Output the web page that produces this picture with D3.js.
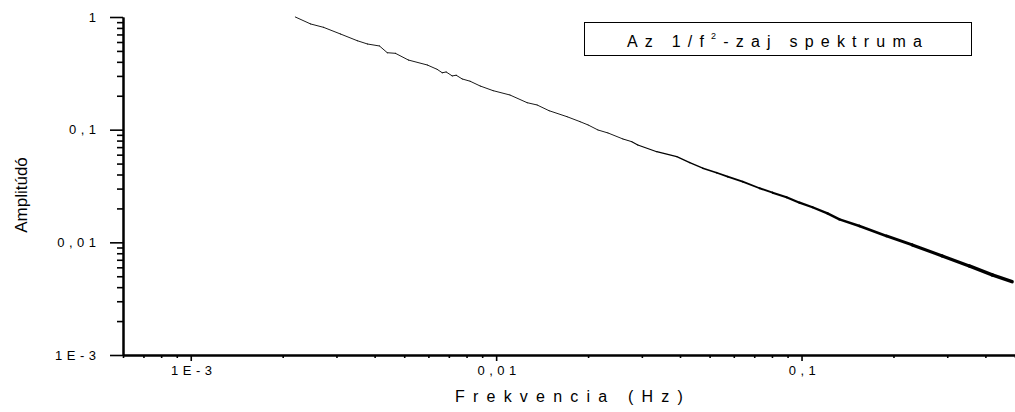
<!DOCTYPE html>
<html>
<head>
<meta charset="utf-8">
<script src="https://cdn.jsdelivr.net/npm/d3@7"></script>
<style>
  body { margin: 0; background: #fff; }
  text { font-family: "Liberation Sans", Arial, sans-serif; fill: #000; }
</style>
</head>
<body>
<svg id="chart" width="1015" height="412"></svg>
<script>
// values
const freq = [
    0.00220, 0.00247, 0.00272, 0.00309, 0.00351, 0.00379, 0.00415, 0.00440, 0.00468, 0.00516,
    0.00595, 0.00641, 0.00666, 0.00686, 0.00718, 0.00740, 0.00774, 0.00822, 0.00887, 0.00977,
    0.0111, 0.01263, 0.01362, 0.0149, 0.01706, 0.01882, 0.0200, 0.02154, 0.02323, 0.0260,
    0.02782, 0.0291, 0.03357, 0.03904, 0.04305, 0.04749, 0.05275, 0.0573, 0.06416, 0.0729,
    0.0804, 0.0893, 0.0985, 0.1086, 0.1216, 0.1331, 0.1547, 0.1896, 0.2305, 0.2889,
    0.354, 0.421, 0.489
];
const amp = [
    1.0, 0.867, 0.810, 0.707, 0.616, 0.576, 0.553, 0.482, 0.476, 0.415,
    0.375, 0.343, 0.320, 0.325, 0.300, 0.304, 0.282, 0.269, 0.244, 0.222,
    0.203, 0.1736, 0.1656, 0.1474, 0.1304, 0.1178, 0.1101, 0.0994, 0.0935, 0.0827,
    0.0782, 0.0731, 0.0638, 0.0576, 0.0510, 0.0455, 0.0415, 0.0383, 0.0346, 0.0302,
    0.0276, 0.0251, 0.0225, 0.0205, 0.0181, 0.0160, 0.01398, 0.0114, 0.00948, 0.00757,
    0.00617, 0.00514, 0.00448
];
const xTicks = [1e-3, 1e-2, 1e-1];
const xTickLabels = ['1E-3', '0,01', '0,1'];
const yTicks = [1e-3, 1e-2, 1e-1, 1];
const yTickLabels = ['1E-3', '0,01', '0,1', '1'];
const xTitle = 'Frekvencia (Hz)';
const yTitle = 'Amplitúdó';

const width = 1015;
const height = 412;
const padding = { left: 123, top: 17, right: 0, bottom: 57 };

const svg = d3.select('#chart');

const x = d3.scaleLog()
    .domain([6e-4, 0.5])
    .range([padding.left, width - padding.right]);
const y = d3.scaleLog()
    .domain([1e-3, 1])
    .range([height - padding.bottom, padding.top]);

const isMajor = (v, majors) => majors.some((m) => Math.abs(v / m - 1) < 1e-6);
const xMinor = x.ticks().filter((v) => !isMajor(v, xTicks));
const yMinor = y.ticks().filter((v) => !isMajor(v, yTicks));

// x axis
const gx = svg.append('g').attr('transform', `translate(0,${y.range()[0]})`);
gx.append('g')
    .call(d3.axisBottom(x).tickValues(xMinor).tickSize(3).tickSizeOuter(0).tickFormat(''));
gx.append('g')
    .call(d3.axisBottom(x).tickValues(xTicks).tickSize(6).tickSizeOuter(0).tickPadding(5)
        .tickFormat((d, i) => xTickLabels[i]));

// y axis
const gy = svg.append('g').attr('transform', `translate(${x.range()[0]},0)`);
gy.append('g')
    .call(d3.axisLeft(y).tickValues(yMinor).tickSize(6).tickSizeOuter(0).tickFormat(''));
gy.append('g')
    .call(d3.axisLeft(y).tickValues(yTicks).tickSize(13).tickSizeOuter(0).tickPadding(14)
        .tickFormat((d, i) => yTickLabels[i]));

svg.selectAll('.domain').attr('stroke', '#000').attr('stroke-width', 2);
svg.selectAll('.tick line').attr('stroke', '#000').attr('stroke-width', 1.6);
svg.selectAll('.tick text')
    .attr('font-family', '"Liberation Sans", Arial, sans-serif')
    .attr('font-size', 13)
    .style('letter-spacing', '4.5px')
    .attr('fill', '#000');
gx.selectAll('.tick text').attr('dx', 2.5);
gy.selectAll('.tick text').attr('dx', 4.5);

// axis titles
svg.append('text')
    .attr('x', (x.range()[0] + x.range()[1]) / 2 + 4)
    .attr('y', 402)
    .attr('text-anchor', 'middle')
    .attr('font-size', 16)
    .style('letter-spacing', '8.2px')
    .text(xTitle);

svg.append('text')
    .attr('transform', 'translate(27,195) rotate(-90)')
    .attr('text-anchor', 'middle')
    .attr('font-size', 17)
    .text(yTitle);

// spectrum line, drawn segment by segment: the dense noisy tail reads thicker
const points = freq.map((f, i) => [x(f), y(amp[i])]);
const thickness = d3.scaleLog().domain([0.025, 0.45]).range([0.9, 3.6]).clamp(true);
svg.append('g')
    .selectAll('line')
    .data(d3.pairs(points.map((p, i) => ({ p, f: freq[i] }))))
    .join('line')
    .attr('x1', (d) => d[0].p[0])
    .attr('y1', (d) => d[0].p[1])
    .attr('x2', (d) => d[1].p[0])
    .attr('y2', (d) => d[1].p[1])
    .attr('stroke', '#000')
    .attr('stroke-linecap', 'round')
    .attr('stroke-width', (d) => thickness(Math.sqrt(d[0].f * d[1].f)));

// legend
const legend = svg.append('g');
legend.append('rect')
    .attr('x', 584.5).attr('y', 22.5)
    .attr('width', 387).attr('height', 33)
    .attr('fill', '#fff').attr('stroke', '#000').attr('stroke-width', 1);
const lt = legend.append('text')
    .attr('x', 778).attr('y', 46.5)
    .attr('text-anchor', 'middle')
    .attr('font-size', 16)
    .style('letter-spacing', '7.2px');
lt.append('tspan').text('Az 1/f');
lt.append('tspan').attr('font-size', 9).attr('dy', -8).text('2');
lt.append('tspan').attr('dy', 8).text('-zaj spektruma');
</script>
</body>
</html>
